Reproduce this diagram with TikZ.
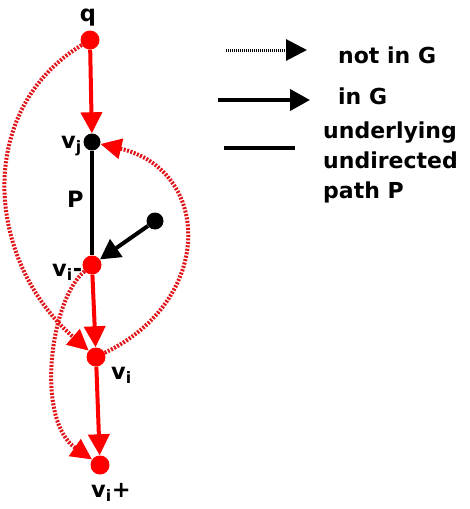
\documentclass[tikz,border=0pt]{standalone}
\usepackage{fontspec}
\setmainfont{DejaVu Sans}
\usetikzlibrary{arrows.meta}
\definecolor{dotred}{RGB}{225,20,25}
\begin{document}
\begin{tikzpicture}[x=1pt,y=-1pt,
  reddot/.style={circle,fill=red,inner sep=0pt,minimum size=19pt},
  blackdot/.style={circle,fill=black,inner sep=0pt,minimum size=17pt},
  lbl/.style={font=\fontsize{22.5}{30}\selectfont\bfseries,inner sep=0pt},
  leg/.style={font=\fontsize{22}{30}\selectfont\bfseries,inner sep=0pt},
  redarrow/.style={red,line width=4pt,-{Triangle[length=21pt,width=21pt]}},
  dotarrow/.style={dotred,line width=4pt,dash pattern=on 2pt off 1.5pt,-{Triangle[length=21pt,width=20pt,fill=red,color=red]}},
  blkarrow/.style={black,line width=4pt,-{Triangle[length=20pt,width=21pt]}},
  blkline/.style={black,line width=4pt},
  legdot/.style={black,line width=3pt,dash pattern=on 1pt off 1pt,-{Triangle[length=21pt,width=21pt]}}]
\useasboundingbox (0,0) rectangle (470,509);
% vertices
\node[reddot] (q) at (90,40) {};
\node[blackdot] (vj) at (92,142) {};
\node[reddot] (vim) at (92,265) {};
\node[reddot] (vi) at (96,357) {};
\node[reddot] (vip) at (100,465) {};
\node[blackdot] (b) at (155,221) {};
% labels
\node[lbl,anchor=base] (lq) at (88,21) {q};
\node[lbl,anchor=base west] (lvj) at (61,148) {v\textsubscript{j}};
\node[lbl,anchor=base west] (lP) at (67,207) {P};
\node[lbl,anchor=base west] (lvim) at (52,276) {v\textsubscript{i}-};
\node[lbl,anchor=base west] (lvi) at (111,379) {v\textsubscript{i}};
\node[lbl,anchor=base west] (lvip) at (91,497) {v\textsubscript{i}+};
% edges
\draw[redarrow] (q) -- (vj);
\draw[blkline] (vj) -- (vim);
\draw[blkarrow] (b) -- (vim);
\draw[redarrow] (vim) -- (vi);
\draw[redarrow] (vi) -- (vip);
\draw[dotarrow] (q) .. controls (-25,110) and (-15,260) .. (vi);
\draw[dotarrow] (vi) .. controls (215,300) and (212,170) .. (vj);
\draw[dotarrow] (vim) .. controls (50,300) and (35,420) .. (vip);
% legend
\coordinate (a1) at (226,50);
\coordinate (a2) at (307,50);
\coordinate (b1) at (218,100);
\coordinate (b2) at (310,100);
\coordinate (c1) at (224,148);
\coordinate (c2) at (295,148);
\draw[legdot] (a1) -- (a2);
\draw[blkarrow] (b1) -- (b2);
\draw[blkline] (c1) -- (c2);
\node[leg,anchor=base west] (t1) at (338,63) {not in G};
\node[leg,anchor=base west] (t2) at (338,104) {in G};
\node[leg,anchor=base west,align=left] (t3) at (323,198) {underlying\\undirected\\path P};
\end{tikzpicture}
\end{document}
